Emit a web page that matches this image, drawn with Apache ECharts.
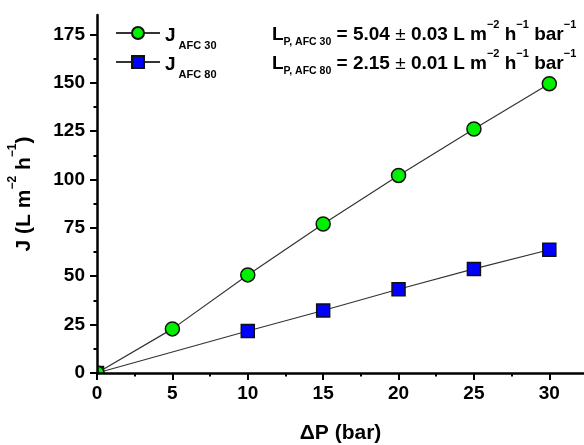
<!DOCTYPE html>
<html>
<head>
<meta charset="utf-8">
<script src="https://cdn.jsdelivr.net/npm/echarts@6/dist/echarts.min.js"></script>
<style>
  html, body { margin: 0; padding: 0; background: #fff; }
  #chart { width: 584px; height: 445px; }
</style>
</head>
<body>
<div id="chart"></div>
<script>
// Permeate flux J versus transmembrane pressure for two membranes
const pressureAFC30 = [0, 5, 10, 15, 20, 25, 30];
const fluxAFC30 = [0, 22.8, 50.7, 77.0, 102.1, 126.1, 149.5];
const pressureAFC80 = [0, 10, 15, 20, 25, 30];
const fluxAFC80 = [0, 21.7, 32.3, 43.3, 53.8, 63.7];

const xMajorTicks = [0, 5, 10, 15, 20, 25, 30];
const xMinorTicks = [2.5, 7.5, 12.5, 17.5, 22.5, 27.5];
const yMajorTicks = [0, 25, 50, 75, 100, 125, 150, 175];
const yMinorTicks = [12.5, 37.5, 62.5, 87.5, 112.5, 137.5, 162.5];

const FONT = '"Liberation Sans", Arial, sans-serif';
const X_MAX = 32.3;
const Y_MAX = 185;

// grid box in pixels
const GRID = { left: 97, right: 0, top: 15, bottom: 72 };

function pairs(xs, ys) {
  return xs.map((x, i) => [x, ys[i]]);
}

const chart = echarts.init(document.getElementById('chart'), null, { renderer: 'canvas' });

const axisLineStyle = { color: '#000', width: 2.5 };
const labelStyle = { color: '#000', fontFamily: FONT, fontWeight: 'bold', fontSize: 19 };

function richSet(main, sub, sup, lh) {
  return {
    b: { fontFamily: FONT, fontWeight: 'bold', fontSize: main, color: '#000', lineHeight: lh, verticalAlign: 'bottom' },
    sup: { fontFamily: FONT, fontWeight: 'bold', fontSize: sup, color: '#000', lineHeight: lh, verticalAlign: 'top' },
    sub: { fontFamily: FONT, fontWeight: 'bold', fontSize: sub, color: '#000', lineHeight: lh, verticalAlign: 'bottom', padding: [0, 0, -4, 0] },
    pm: { fontFamily: FONT, fontWeight: 'normal', fontSize: main, color: '#000', lineHeight: lh, verticalAlign: 'bottom' }
  };
}

const annotRich = richSet(19, 10.5, 11, 25);
const yNameRich = richSet(21, 12, 12, 28);

function lpLine(sub, value) {
  return '{b|L}{sub|P, ' + sub + '}{b| = ' + value[0] + ' }{pm|±}{b| ' + value[1] +
    ' L m}{sup|−2}{b| h}{sup|−1}{b| bar}{sup|−1}';
}

const option = {
  backgroundColor: '#fff',
  animation: false,
  grid: Object.assign({ containLabel: false, outerBoundsMode: 'none' }, GRID),
  legend: {
    orient: 'vertical',
    left: 110,
    top: 21,
    itemWidth: 44,
    itemHeight: 15,
    itemGap: 4,
    data: ['AFC 30', 'AFC 80'],
    formatter: name => '{j|J}{s| ' + name + '}',
    textStyle: {
      rich: {
        j: { fontFamily: FONT, fontWeight: 'bold', fontSize: 19, color: '#000', lineHeight: 24, verticalAlign: 'bottom' },
        s: { fontFamily: FONT, fontWeight: 'bold', fontSize: 11, color: '#000', lineHeight: 24, verticalAlign: 'bottom', padding: [0, 0, -6, 0] }
      }
    }
  },
  xAxis: [
    {
      type: 'value', min: 0, max: X_MAX, z: 5,
      name: 'ΔP (bar)', nameLocation: 'middle', nameGap: 50,
      nameTextStyle: { color: '#000', fontFamily: FONT, fontWeight: 'bold', fontSize: 21 },
      axisLine: { show: true, onZero: false, lineStyle: axisLineStyle },
      axisTick: { show: true, length: 7, lineStyle: { color: '#000', width: 2 }, customValues: xMajorTicks },
      axisLabel: Object.assign({ margin: 11, customValues: xMajorTicks }, labelStyle),
      splitLine: { show: false }
    },
    {
      type: 'value', min: 0, max: X_MAX, position: 'bottom', gridIndex: 0, z: 5,
      axisLine: { show: false },
      axisTick: { show: true, length: 3.5, lineStyle: { color: '#000', width: 2 }, customValues: xMinorTicks },
      axisLabel: { show: false },
      splitLine: { show: false }
    }
  ],
  yAxis: [
    {
      type: 'value', min: 0, max: Y_MAX, z: 5,
      name: '{b|J (L m}{sup|−2}{b| h}{sup|−1}{b|)}',
      nameLocation: 'middle', nameRotate: 90, nameGap: 62,
      nameTextStyle: { rich: yNameRich },
      axisLine: { show: true, onZero: false, lineStyle: axisLineStyle },
      axisTick: { show: true, length: 7, lineStyle: { color: '#000', width: 2 }, customValues: yMajorTicks },
      axisLabel: Object.assign({ margin: 12, customValues: yMajorTicks }, labelStyle),
      splitLine: { show: false }
    },
    {
      type: 'value', min: 0, max: Y_MAX, position: 'left', gridIndex: 0, z: 5,
      axisLine: { show: false },
      axisTick: { show: true, length: 3.5, lineStyle: { color: '#000', width: 2 }, customValues: yMinorTicks },
      axisLabel: { show: false },
      splitLine: { show: false }
    }
  ],
  series: [
    {
      name: 'AFC 80', type: 'line', xAxisIndex: 0, yAxisIndex: 0,
      data: pairs(pressureAFC80, fluxAFC80),
      symbol: 'rect', symbolSize: 13,
      lineStyle: { color: '#333', width: 1.2 },
      itemStyle: { color: '#0000ff', borderColor: '#111', borderWidth: 1.5 },
      z: 2
    },
    {
      name: 'AFC 30', type: 'line', xAxisIndex: 0, yAxisIndex: 0,
      data: pairs(pressureAFC30, fluxAFC30),
      symbol: 'circle', symbolSize: 14,
      lineStyle: { color: '#333', width: 1.2 },
      itemStyle: { color: '#00f000', borderColor: '#111', borderWidth: 1.5 },
      z: 3
    }
  ],
  graphic: [
    // white masks so markers sitting on the axes are cut at the plot edge
    {
      type: 'rect', z: 4, silent: true,
      shape: { x: GRID.left - 12, y: 445 - GRID.bottom - 12, width: 12, height: 24 },
      style: { fill: '#fff' }
    },
    {
      type: 'rect', z: 4, silent: true,
      shape: { x: GRID.left - 12, y: 445 - GRID.bottom, width: 24, height: 12 },
      style: { fill: '#fff' }
    },
    {
      type: 'text', left: 272, top: 19, z: 6,
      style: { text: lpLine('AFC 30', ['5.04', '0.03']), rich: annotRich }
    },
    {
      type: 'text', left: 272, top: 48, z: 6,
      style: { text: lpLine('AFC 80', ['2.15', '0.01']), rich: annotRich }
    }
  ]
};

chart.setOption(option);
</script>
</body>
</html>
